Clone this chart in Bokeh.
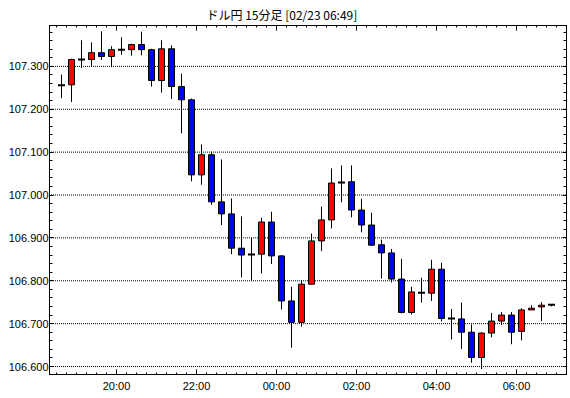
from bokeh.plotting import figure
from bokeh.models import (FixedTicker, LinearAxis, Range1d, ColumnDataSource,
                          PrintfTickFormatter)
from bokeh.embed import file_html
from bokeh.resources import INLINE

# ---------------- data ----------------
title_text = "ドル円 15分足 [02/23 06:49]"

times = ["18:30", "18:45", "19:00", "19:15", "19:30", "19:45", "20:00", "20:15", "20:30", "20:45",
         "21:00", "21:15", "21:30", "21:45", "22:00", "22:15", "22:30", "22:45", "23:00", "23:15",
         "23:30", "23:45", "00:00", "00:15", "00:30", "00:45", "01:00", "01:15", "01:30", "01:45",
         "02:00", "02:15", "02:30", "02:45", "03:00", "03:15", "03:30", "03:45", "04:00", "04:15",
         "04:30", "04:45", "05:00", "05:15", "05:30", "05:45", "06:00", "06:15", "06:30", "06:45"]

opens = [107.256, 107.257, 107.316, 107.316, 107.332, 107.323, 107.339, 107.339, 107.351, 107.339,
         107.267, 107.341, 107.253, 107.222, 107.047, 107.094, 106.984, 106.956, 106.876, 106.861,
         106.862, 106.937, 106.858, 106.753, 106.703, 106.792, 106.893, 106.942, 107.029, 107.031,
         106.965, 106.930, 106.884, 106.865, 106.804, 106.726, 106.772, 106.771, 106.827, 106.712,
         106.711, 106.680, 106.621, 106.678, 106.706, 106.720, 106.682, 106.732, 106.739, 106.744]
highs = [107.281, 107.318, 107.361, 107.356, 107.382, 107.347, 107.368, 107.353, 107.381, 107.341,
         107.361, 107.349, 107.283, 107.225, 107.118, 107.101, 107.083, 106.992, 106.950, 106.900,
         106.947, 106.961, 106.860, 106.786, 106.802, 106.910, 106.973, 107.062, 107.069, 107.069,
         106.991, 106.959, 106.896, 106.874, 106.851, 106.786, 106.807, 106.849, 106.842, 106.734,
         106.749, 106.698, 106.680, 106.725, 106.727, 106.727, 106.736, 106.743, 106.750, 106.745]
lows = [107.226, 107.217, 107.296, 107.300, 107.315, 107.299, 107.327, 107.325, 107.326, 107.253,
        107.239, 107.224, 107.144, 107.032, 107.024, 106.977, 106.930, 106.862, 106.808, 106.800,
        106.817, 106.839, 106.733, 106.644, 106.693, 106.792, 106.869, 106.922, 106.983, 106.948,
        106.913, 106.882, 106.805, 106.796, 106.724, 106.721, 106.749, 106.753, 106.705, 106.663,
        106.641, 106.609, 106.594, 106.668, 106.697, 106.652, 106.661, 106.732, 106.706, 106.740]
closes = [107.256, 107.316, 107.316, 107.332, 107.323, 107.339, 107.339, 107.351, 107.339, 107.267,
          107.341, 107.253, 107.222, 107.047, 107.094, 106.984, 106.956, 106.876, 106.860, 106.861,
          106.937, 106.858, 106.753, 106.703, 106.792, 106.893, 106.942, 107.028, 107.029, 106.965,
          106.930, 106.883, 106.865, 106.804, 106.726, 106.774, 106.772, 106.827, 106.712, 106.712,
          106.680, 106.621, 106.678, 106.706, 106.720, 106.680, 106.732, 106.736, 106.743, 106.744]

x_tick_labels = ["20:00", "22:00", "00:00", "02:00", "04:00", "06:00"]
y_tick_values = [106.6, 106.7, 106.8, 106.9, 107.0, 107.1, 107.2, 107.3]

# ---------------- helpers ----------------
def minutes_from_18(t):
    h, m = map(int, t.split(":"))
    v = h * 60 + m - 18 * 60
    if v < 0:
        v += 1440
    return v

xc = [minutes_from_18(t) + 7.5 for t in times]
tick_pos = [minutes_from_18(t) for t in x_tick_labels]
minor_x = list(range(30, 795, 15))
minor_y = [round(106.58 + 0.02 * i, 2) for i in range(41)]

up_color = "#ff0000"
down_color = "#0000ff"

body = dict(x=[], top=[], bottom=[], color=[])
doji = dict(x=[], y=[])
for x, o, c in zip(xc, opens, closes):
    if o == c:
        doji["x"].append(x)
        doji["y"].append(o)
    else:
        body["x"].append(x)
        body["top"].append(max(o, c))
        body["bottom"].append(min(o, c))
        body["color"].append(up_color if c > o else down_color)

wick_src = ColumnDataSource(dict(x=xc, high=highs, low=lows))
body_src = ColumnDataSource(body)
doji_src = ColumnDataSource(doji)

# ---------------- figure ----------------
W, H = 570, 398
BL, BR, BT, BB = 49, 4, 24, 24
FW, FH = W - BL - BR, H - BT - BB          # 517 x 350 frame
px_per_min = 2.0 / 3.0
px_per_unit = 430.0

x0 = 19.5
x1 = x0 + FW / px_per_min
y1 = 107.3 + 41.0 / px_per_unit
y0 = y1 - FH / px_per_unit

p = figure(width=W, height=H, output_backend="svg", toolbar_location=None,
           x_range=Range1d(x0, x1), y_range=Range1d(y0, y1),
           min_border_left=BL, min_border_right=BR, min_border_top=BT, min_border_bottom=BB,
           background_fill_color="white", border_fill_color="white")
p.outline_line_color = "black"
p.outline_line_width = 1

# title
p.title.text = title_text
p.title.text_font = "Noto Sans CJK JP"
p.title.text_font_size = "12px"
p.title.text_font_style = "normal"
p.title.text_color = "black"
p.title.align = "left"
p.title.offset = 157
p.title.standoff = 6

label_font = "Liberation Sans"

xticker = FixedTicker(ticks=tick_pos, minor_ticks=minor_x)
yticker = FixedTicker(ticks=y_tick_values, minor_ticks=minor_y)

# bottom axis
xa = p.xaxis[0]
xa.ticker = xticker
xa.major_label_overrides = {tp: lab for tp, lab in zip(tick_pos, x_tick_labels)}
xa.major_label_text_font = label_font
xa.major_label_text_font_size = "11px"
xa.major_label_text_color = "black"
xa.major_label_standoff = 5
xa.major_tick_in = 5
xa.major_tick_out = 0
xa.minor_tick_in = 2
xa.minor_tick_out = 0
xa.axis_line_color = "black"
xa.major_tick_line_color = "black"
xa.minor_tick_line_color = "black"

# left axis
ya = p.yaxis[0]
ya.ticker = yticker
ya.formatter = PrintfTickFormatter(format="%.3f")
ya.major_label_text_font = label_font
ya.major_label_text_font_size = "11px"
ya.major_label_text_color = "black"
ya.major_label_standoff = 1
ya.major_tick_in = 4
ya.major_tick_out = 0
ya.minor_tick_in = 3
ya.minor_tick_out = 0
ya.axis_line_color = "black"

# top axis (ticks only)
ta = LinearAxis(ticker=xticker, major_label_text_font_size="0px", major_label_standoff=0,
                major_tick_in=5, major_tick_out=0, minor_tick_in=2, minor_tick_out=0,
                axis_line_color="black", major_tick_line_color="black",
                minor_tick_line_color="black")
ta.major_label_overrides = {tp: "" for tp in tick_pos}
p.add_layout(ta, "above")

# right axis (ticks only)
ra = LinearAxis(ticker=yticker, major_label_text_font_size="0px", major_label_standoff=0,
                major_tick_in=4, major_tick_out=0, minor_tick_in=3, minor_tick_out=0,
                axis_line_color="black", major_tick_line_color="black",
                minor_tick_line_color="black")
ra.major_label_overrides = {v: "" for v in y_tick_values}
p.add_layout(ra, "right")

# grid: dotted horizontal lines at the major y ticks, spanning the x range
# (started half a pixel left of the frame so the 1-on/1-off dots fall on whole pixels)
p.xgrid.visible = False
p.ygrid.visible = False
gx0 = x0 - 0.5 / px_per_min
grid_src = ColumnDataSource(dict(xs=[[gx0, x1] for _ in y_tick_values],
                                 ys=[[v, v] for v in y_tick_values]))
p.multi_line(xs="xs", ys="ys", source=grid_src, line_color="black", line_width=1,
             line_dash="1 1")

# candles
p.segment(x0="x", y0="low", x1="x", y1="high", source=wick_src, line_color="black", line_width=1)
p.vbar(x="x", width=9, top="top", bottom="bottom", source=body_src,
       fill_color="color", line_color="black", line_width=1)
p.rect(x="x", y="y", width=10.5, height=2, height_units="screen", source=doji_src,
       fill_color="black", line_color=None)

open("out.html", "w").write(file_html(p, INLINE))
